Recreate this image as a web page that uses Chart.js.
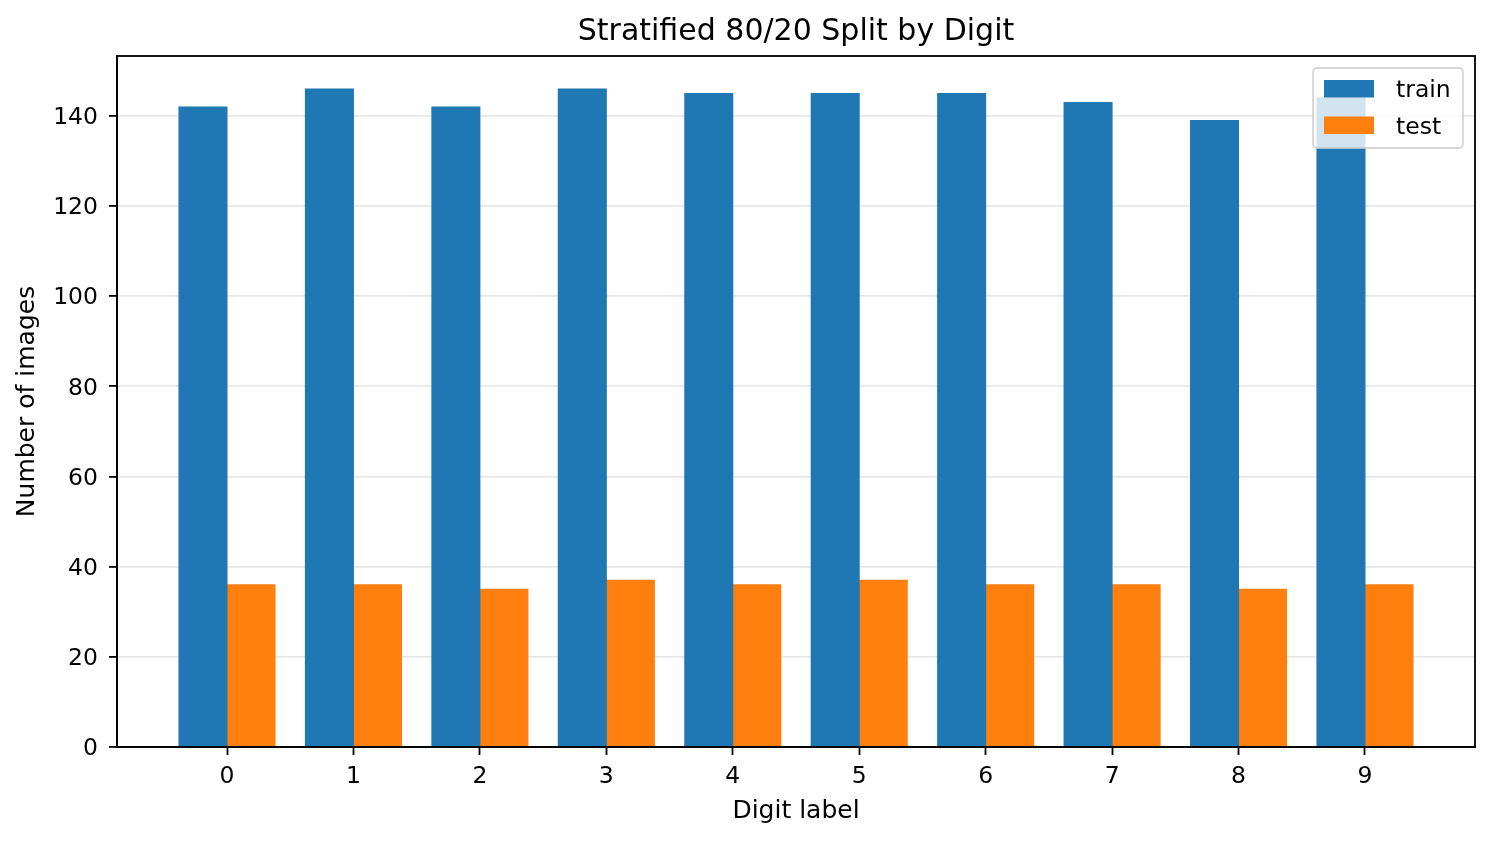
<!DOCTYPE html>
<html>
<head>
<meta charset="utf-8">
<title>Stratified 80/20 Split by Digit</title>
<script src="https://cdn.jsdelivr.net/npm/chart.js@4.4.1/dist/chart.umd.min.js"></script>
<style>
  html, body { margin: 0; padding: 0; background: #fff; }
  #wrap { width: 1493px; height: 841px; }
</style>
</head>
<body>
<div id="wrap"><canvas id="splitChart" width="1493" height="841"></canvas></div>
<script>
// data
const digitLabels = ["0", "1", "2", "3", "4", "5", "6", "7", "8", "9"];
const trainCounts = [142, 146, 142, 146, 145, 145, 145, 143, 139, 144];
const testCounts = [36, 36, 35, 37, 36, 37, 36, 36, 35, 36];
const yTicks = [0, 20, 40, 60, 80, 100, 120, 140];
const seriesNames = ["train", "test"];
const chartTitle = "Stratified 80/20 Split by Digit";

const FONT = "'DejaVu Sans', sans-serif";
const colors = {
  train: "#1f77b4", // matplotlib blue
  test: "#ff7f0e", // matplotlib orange
  grid: "rgba(176,176,176,0.3)",
};

const toPoints = (vals) => vals.map((v, i) => ({ x: i, y: v }));

// title, top/right spines and the legend box
const framePlugin = {
  id: "frameAndLegend",
  afterDraw(chart) {
    const { ctx, chartArea: a } = chart;
    ctx.save();
    ctx.strokeStyle = "#000";
    ctx.lineWidth = 1.8;
    ctx.strokeRect(a.left, a.top, a.right - a.left, a.bottom - a.top);

    ctx.fillStyle = "#000";
    ctx.font = "30px " + FONT;
    ctx.textAlign = "center";
    ctx.textBaseline = "alphabetic";
    ctx.fillText(chartTitle, (a.left + a.right) / 2, 40);

    // legend, upper right like matplotlib
    const lw = 150, lh = 80;
    const lx = a.right - 12 - lw, ly = a.top + 12;
    ctx.beginPath();
    ctx.roundRect(lx, ly, lw, lh, 4);
    ctx.fillStyle = "rgba(255,255,255,0.8)";
    ctx.fill();
    ctx.strokeStyle = "rgba(204,204,204,0.8)";
    ctx.lineWidth = 1.8;
    ctx.stroke();

    ctx.font = "23.5px " + FONT;
    ctx.textAlign = "left";
    ctx.textBaseline = "middle";
    chart.data.datasets.forEach((ds, i) => {
      const py = ly + 12 + i * 36.5;
      ctx.fillStyle = ds.backgroundColor;
      ctx.fillRect(lx + 11, py, 50, 17.5);
      ctx.fillStyle = "#000";
      ctx.fillText(ds.label, lx + 83, py + 11);
    });
    ctx.restore();
  },
};

const ctx = document.getElementById("splitChart");
new Chart(ctx, {
  type: "bar",
  data: {
    datasets: [
      {
        label: seriesNames[0],
        data: toPoints(trainCounts),
        backgroundColor: colors.train,
        categoryPercentage: 0.76,
        barPercentage: 1.0,
        borderWidth: 0,
        inflateAmount: 0.5,
      },
      {
        label: seriesNames[1],
        data: toPoints(testCounts),
        backgroundColor: colors.test,
        categoryPercentage: 0.76,
        barPercentage: 1.0,
        borderWidth: 0,
        inflateAmount: 0.5,
      },
    ],
  },
  options: {
    responsive: false,
    animation: false,
    devicePixelRatio: 1,
    layout: { padding: { top: 56, right: 18, left: 0, bottom: 0 } },
    plugins: {
      legend: { display: false },
      title: { display: false },
      tooltip: { enabled: false },
    },
    scales: {
      x: {
        type: "linear",
        min: -0.87,
        max: 9.87,
        offset: false,
        afterBuildTicks: (s) => {
          s.ticks = digitLabels.map((_, i) => ({ value: i }));
        },
        afterFit: (s) => {
          s.height = 94;
        },
        ticks: {
          callback: (v) => digitLabels[v],
          font: { family: FONT, size: 23.5 },
          color: "#000",
          padding: 8,
          maxRotation: 0,
          autoSkip: false,
        },
        grid: {
          offset: false,
          drawOnChartArea: false,
          tickLength: 8,
          tickWidth: 1.8,
          tickColor: "#000",
        },
        border: { color: "#000", width: 1.8 },
        title: {
          display: true,
          text: "Digit label",
          color: "#000",
          font: { family: FONT, size: 25 },
          padding: { top: 0, bottom: 15 },
        },
      },
      y: {
        min: 0,
        max: 153.3,
        z: 1,
        afterBuildTicks: (s) => {
          s.ticks = yTicks.map((v) => ({ value: v }));
        },
        afterFit: (s) => {
          s.width = 117;
        },
        ticks: {
          font: { family: FONT, size: 23.5 },
          color: "#000",
          padding: 11,
          labelOffset: 2,
        },
        grid: {
          color: (c) => (c.tick && c.tick.value === 0 ? "rgba(0,0,0,0)" : colors.grid),
          lineWidth: 1.8,
          tickLength: 8,
          tickWidth: 1.8,
          tickColor: "#000",
        },
        border: { color: "#000", width: 1.8 },
        title: {
          display: true,
          text: "Number of images",
          color: "#000",
          font: { family: FONT, size: 25 },
          padding: { top: 12, bottom: 0 },
        },
      },
    },
  },
  plugins: [framePlugin],
});
</script>
</body>
</html>
